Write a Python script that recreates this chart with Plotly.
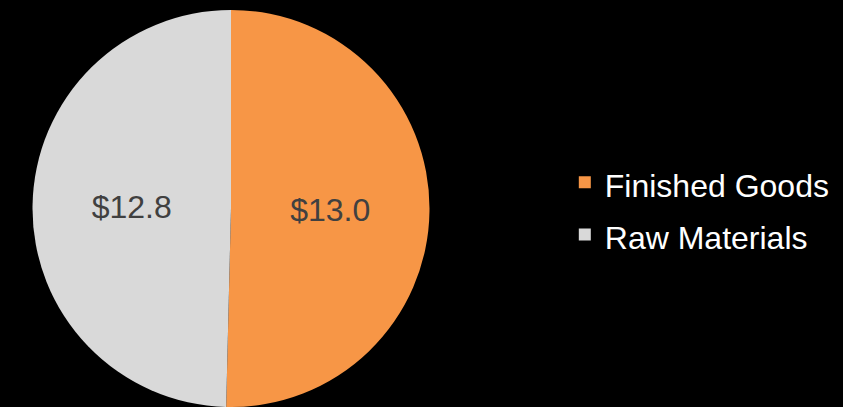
import plotly.graph_objects as go

# Inventory split (in $ millions)
categories = ["Finished Goods", "Raw Materials"]
values = [13.0, 12.8]
colors = ["#F79646", "#D9D9D9"]

FONT = "Liberation Sans, Arial, sans-serif"

# Legend row height follows the legend font size, so the labels carry
# their own (smaller) size to get the roomier spacing of the original.
legend_labels = [f"<span style='font-size:32px'>{c}</span>" for c in categories]

fig = go.Figure()
fig.add_trace(go.Pie(
    labels=legend_labels,
    values=values,
    customdata=categories,
    sort=False,
    direction="clockwise",
    rotation=0,
    marker={"colors": colors, "line": {"width": 0}},
    texttemplate="$%{value:.1f}",
    textposition="inside",
    insidetextorientation="horizontal",
    textfont={"color": "#404040", "size": 32, "family": FONT},
    domain={"x": [0, 462 / 843], "y": [0, 1]},
    hovertemplate="%{customdata}: $%{value:.1f}<extra></extra>",
))

fig.update_layout(
    width=843,
    height=407,
    paper_bgcolor="#000000",
    plot_bgcolor="#000000",
    margin={"t": 10, "b": 0, "l": 0, "r": 0},
    font={"family": FONT, "color": "#FFFFFF"},
    showlegend=True,
    legend={
        "x": 0.670,
        "xanchor": "left",
        "y": 0.50,
        "yanchor": "middle",
        "font": {"size": 38, "color": "#FFFFFF", "family": FONT},
        "bgcolor": "rgba(0,0,0,0)",
        "traceorder": "normal",
    },
)

fig.write_html(
    "out.html",
    config={"displayModeBar": False},
    post_script="document.body.style.margin='0';document.body.style.background='#000';",
)
